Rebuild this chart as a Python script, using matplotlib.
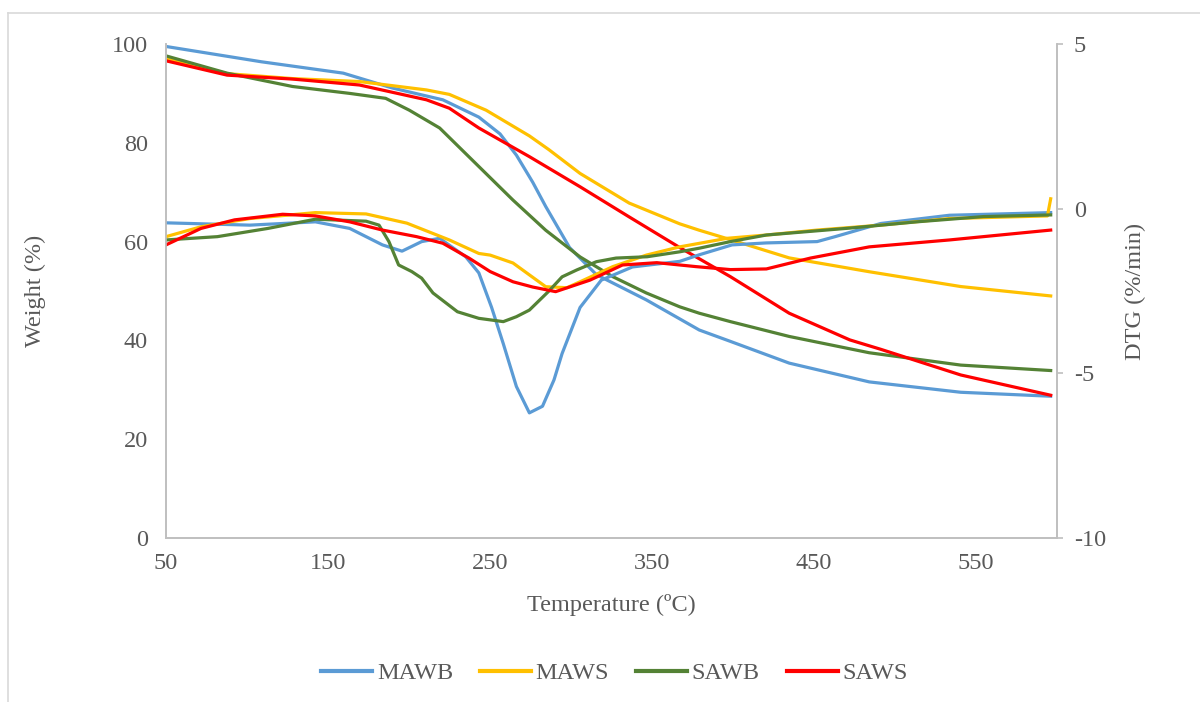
import numpy as np
import matplotlib.pyplot as plt
from matplotlib.lines import Line2D

plt.rcParams['font.family'] = ['Liberation Serif', 'DejaVu Serif']
plt.rcParams['axes.unicode_minus'] = False

# ---- data ----
labels = ['MAWB', 'MAWS', 'SAWB', 'SAWS']
colors = ['#5B9BD5', '#FFC000', '#548235', '#FF0000']

# weight (%) curves
mawb_tg_t = [50, 108.9, 159.4, 189.6, 220.9, 243.1, 256.2, 266.3, 276.4, 284.4, 299.1, 315.7,
             346.5, 379.2, 398.4, 434.7, 484.1, 540.6, 596.1]
mawb_tg = [99.5, 96.4, 94.1, 91.1, 88.7, 85.2, 81.8, 77.5, 72.0, 67.1, 58.8, 53.3,
           48.2, 42.1, 39.8, 35.4, 31.6, 29.5, 28.7]

maws_tg_t = [50, 87.7, 128.1, 169.4, 210.8, 224.9, 247.6, 274.3, 286.4, 305.6, 335.9, 367.1,
             379.2, 396.4, 434.7, 484.1, 540.6, 596.1]
maws_tg = [97.0, 94.0, 93.0, 92.4, 90.7, 89.8, 86.6, 81.4, 78.6, 73.8, 67.8, 63.6,
           62.3, 60.6, 56.7, 53.9, 50.9, 49.0]

sawb_tg_t = [50, 87.7, 128.1, 163.4, 185.6, 200.2, 218.9, 243.1, 264.2, 284.4, 305.6, 325.8,
             346.5, 367.1, 379.2, 398.4, 434.7, 484.1, 540.6, 596.1]
sawb_tg = [97.6, 94.1, 91.4, 90.0, 89.0, 86.6, 83.0, 75.2, 68.4, 62.3, 56.9, 52.9,
           49.6, 46.8, 45.5, 43.8, 40.8, 37.5, 35.0, 33.9]

saws_tg_t = [50, 87.7, 128.1, 169.4, 210.8, 224.9, 243.1, 274.3, 305.6, 335.9, 367.1, 398.4,
             434.7, 472.1, 491.2, 540.6, 596.1]
saws_tg = [96.6, 93.7, 92.9, 91.7, 88.7, 87.0, 83.0, 77.2, 71.1, 65.0, 58.8, 52.9,
           45.5, 40.1, 38.2, 33.0, 28.9]

# DTG (%/min) curves
mawb_dtg_t = [50, 101.8, 142.2, 163.4, 183.6, 195.7, 207.8, 218.9, 235.0, 243.1, 251.0, 258.2,
              266.3, 274.3, 282.4, 289.5, 294.5, 305.6, 318.7, 337.9, 367.1, 379.2, 399.4,
              420.6, 451.9, 463.0, 491.2, 533.6, 596.1]
mawb_dtg = [-0.43, -0.5, -0.4, -0.6, -1.1, -1.29, -1.0, -0.9, -1.46, -1.95, -3.0, -4.1,
            -5.4, -6.2, -6.0, -5.2, -4.4, -3.0, -2.17, -1.77, -1.6, -1.4, -1.1,
            -1.04, -1.0, -0.85, -0.45, -0.2, -0.12]

maws_dtg_t = [50, 71.6, 101.8, 142.2, 173.5, 198.7, 224.9, 243.1, 250.1, 264.2, 284.4, 297.5,
              305.6, 325.8, 346.5, 367.1, 396.4, 420.6, 451.9, 491.2, 533.6, 594.1, 596.1]
maws_dtg = [-0.85, -0.55, -0.3, -0.12, -0.16, -0.44, -0.95, -1.36, -1.41, -1.65, -2.37, -2.4,
            -2.22, -1.76, -1.41, -1.16, -0.9, -0.8, -0.65, -0.5, -0.3, -0.22, 0.3]

sawb_dtg_t = [50, 81.7, 112.9, 142.2, 173.5, 181.5, 187.6, 193.6, 201.7, 207.8, 214.8, 229.9,
              243.1, 258.2, 266.3, 274.3, 286.4, 294.5, 303.6, 315.7, 327.8, 347.0, 367.1,
              379.2, 398.4, 420.6, 472.1, 513.4, 554.7, 596.1]
sawb_dtg = [-0.95, -0.85, -0.6, -0.32, -0.38, -0.5, -1.0, -1.71, -1.91, -2.11, -2.56, -3.13,
            -3.33, -3.43, -3.28, -3.08, -2.5, -2.07, -1.86, -1.61, -1.5, -1.46, -1.31,
            -1.2, -1.0, -0.8, -0.59, -0.4, -0.24, -0.19]

saws_dtg_t = [50, 71.6, 92.3, 122.0, 142.2, 163.4, 183.6, 204.7, 220.9, 237.0, 250.1, 264.2,
              276.4, 290.5, 311.7, 331.8, 353.0, 377.2, 398.4, 420.6, 447.8, 484.1, 533.6, 596.1]
saws_dtg = [-1.1, -0.6, -0.34, -0.17, -0.22, -0.4, -0.65, -0.85, -1.05, -1.5, -1.91, -2.22,
            -2.38, -2.52, -2.17, -1.71, -1.64, -1.76, -1.85, -1.83, -1.5, -1.16, -0.95, -0.65]

x_ticks = [50, 150, 250, 350, 450, 550]
w_ticks = [0, 20, 40, 60, 80, 100]
d_ticks = [-10, -5, 0, 5]

tg_t = [mawb_tg_t, maws_tg_t, sawb_tg_t, saws_tg_t]
tg = [mawb_tg, maws_tg, sawb_tg, saws_tg]
dtg_t = [mawb_dtg_t, maws_dtg_t, sawb_dtg_t, saws_dtg_t]
dtg = [mawb_dtg, maws_dtg, sawb_dtg, saws_dtg]

txt = '#595959'
axc = '#BFBFBF'
fs = 17.5
lw = 2.3

fig = plt.figure(figsize=(12, 7.02), dpi=100)
ax = fig.add_axes([166/1200, 1 - 538/702, (1057-166)/1200, (538-44)/702])
ax2 = ax.twinx()

for i in range(4):
    ax.plot(tg_t[i], tg[i], color=colors[i], lw=lw, solid_joinstyle='round')
for i in range(4):
    ax2.plot(dtg_t[i], dtg[i], color=colors[i], lw=lw, solid_joinstyle='round')

ax.set_xlim(50, 600)
ax.set_ylim(0, 100)
ax2.set_ylim(-10, 5)
ax.set_xticks(x_ticks)
ax.set_yticks(w_ticks)
ax2.set_yticks(d_ticks)

for a in (ax, ax2):
    for s in a.spines.values():
        s.set_color(axc)
        s.set_linewidth(1.2)
    a.spines['top'].set_visible(False)

ax.tick_params(axis='x', length=0, pad=11, labelsize=fs, labelcolor=txt)
ax.tick_params(axis='y', length=0, pad=13, labelsize=fs, labelcolor=txt)
ax2.tick_params(axis='y', length=4, width=1.2, color=axc, pad=8, labelsize=fs, labelcolor=txt)

ax.set_xlabel('Temperature (ºC)', fontsize=fs, color=txt, va='center')
ax.xaxis.set_label_coords(0.5, -(605-538)/494)
ax.set_ylabel('Weight (%)', fontsize=fs, color=txt, va='center')
ax.yaxis.set_label_coords(-(166-35)/891, 0.5)
ax2.set_ylabel('DTG (%/min)', fontsize=fs, color=txt, va='center')
ax2.yaxis.set_label_coords((1135-166)/891, 0.5)

handles = [Line2D([], [], color=c, lw=3) for c in colors]
fig.legend(handles, labels, loc='center', bbox_to_anchor=(0.512, 1 - 673/702), ncol=4,
           frameon=False, fontsize=fs, labelcolor=txt, handlelength=2.1,
           handletextpad=0.2, columnspacing=1.1)

# chart border
fig.add_artist(Line2D([8/1200, 8/1200], [0, 1 - 13/702], color='#D9D9D9', lw=1.2))
fig.add_artist(Line2D([8/1200, 1], [1 - 13/702, 1 - 13/702], color='#D9D9D9', lw=1.2))

fig.savefig('out.png', dpi=100)
